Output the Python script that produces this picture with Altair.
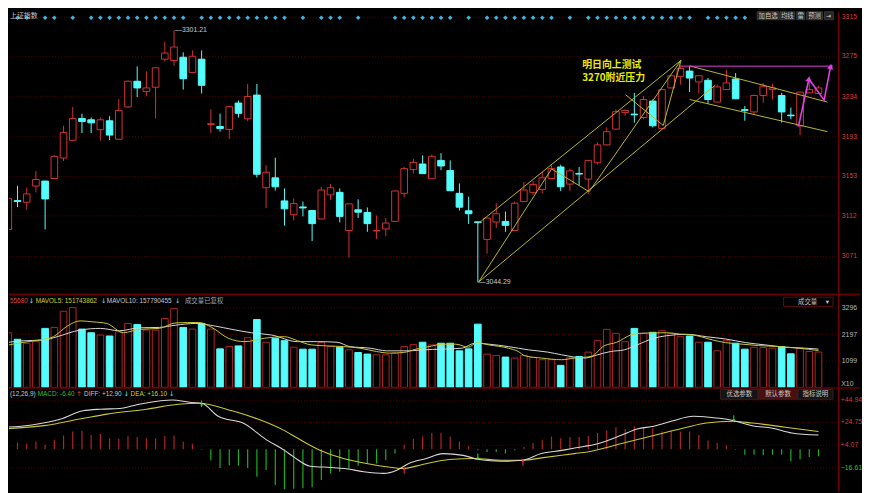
import altair as alt
import pandas as pd

# ---------------- data ----------------
candle_idx = list(range(89))
opens = [3098.0, 3127.5, 3125.8, 3142.3, 3147.4, 3150.0, 3170.9, 3189.0, 3211.2, 3209.9,
         3199.8, 3208.9, 3190.0, 3223.0, 3249.2, 3238.7, 3243.1, 3271.7, 3270.3, 3273.7,
         3258.2, 3271.7, 3205.1, 3203.1, 3200.1, 3227.0, 3210.9, 3235.1, 3140.6, 3150.7,
         3127.2, 3113.1, 3121.0, 3117.4, 3108.7, 3133.3, 3135.9, 3097.0, 3118.1, 3115.4,
         3096.5, 3098.6, 3106.3, 3134.9, 3159.1, 3164.8, 3149.7, 3168.5, 3158.1, 3134.9,
         3117.1, 3105.8, 3087.9, 3105.6, 3106.3, 3097.0, 3126.5, 3135.9, 3138.9, 3150.0,
         3161.8, 3144.3, 3155.2, 3149.4, 3166.1, 3184.3, 3200.4, 3217.2, 3215.7, 3212.2,
         3229.0, 3201.1, 3242.4, 3254.2, 3259.6, 3248.5, 3250.2, 3228.0, 3240.7, 3251.5,
         3220.2, 3217.9, 3234.7, 3240.7, 3234.7, 3214.7, 3203.8, 3237.4, 3236.7]
highs = [3141.6, 3142.6, 3140.6, 3157.8, 3147.8, 3173.9, 3203.8, 3223.0, 3216.2, 3212.2,
         3212.2, 3213.5, 3231.0, 3250.0, 3264.3, 3259.3, 3263.5, 3289.5, 3301.21, 3278.7,
         3280.7, 3280.7, 3220.6, 3216.2, 3223.5, 3229.6, 3246.5, 3246.5, 3163.5, 3171.2,
         3139.9, 3129.8, 3126.5, 3117.8, 3141.6, 3144.3, 3139.9, 3124.5, 3128.8, 3120.5,
         3112.4, 3109.7, 3137.8, 3161.8, 3170.2, 3173.6, 3174.6, 3175.9, 3168.5, 3145.0,
         3131.5, 3106.0, 3110.0, 3124.8, 3116.4, 3126.5, 3146.7, 3147.4, 3156.7, 3163.5,
         3164.1, 3160.1, 3161.8, 3168.8, 3187.0, 3202.1, 3220.6, 3220.6, 3237.4, 3234.1,
         3230.6, 3241.4, 3255.8, 3265.9, 3264.3, 3255.0, 3252.5, 3245.7, 3260.9, 3257.5,
         3224.0, 3235.7, 3247.5, 3246.5, 3237.4, 3222.3, 3238.5, 3250.8, 3244.7]
lows = [3095.6, 3120.8, 3118.1, 3135.9, 3098.0, 3149.4, 3167.8, 3188.3, 3196.4, 3196.4,
        3188.7, 3189.3, 3189.5, 3222.0, 3233.0, 3234.1, 3211.2, 3269.3, 3264.9, 3240.7,
        3258.0, 3236.7, 3196.4, 3197.8, 3190.3, 3212.2, 3208.5, 3151.0, 3119.8, 3137.6,
        3102.0, 3107.4, 3111.4, 3086.2, 3108.5, 3128.2, 3105.3, 3069.4, 3109.7, 3095.6,
        3088.5, 3091.2, 3106.0, 3130.8, 3155.0, 3154.8, 3149.5, 3158.5, 3137.4, 3117.4,
        3103.6, 3044.29, 3073.4, 3099.6, 3095.6, 3096.8, 3126.3, 3133.3, 3134.9, 3149.8,
        3137.3, 3137.3, 3143.3, 3133.9, 3164.5, 3183.7, 3200.2, 3214.0, 3207.1, 3210.5,
        3202.1, 3200.4, 3242.2, 3245.7, 3238.1, 3236.7, 3226.3, 3227.8, 3240.5, 3231.0,
        3208.9, 3215.5, 3227.3, 3230.6, 3207.1, 3210.5, 3194.3, 3237.0, 3236.5]
closes = [3129.8, 3126.5, 3134.3, 3149.0, 3129.2, 3172.6, 3197.1, 3211.2, 3208.2, 3206.8,
          3209.9, 3194.3, 3219.5, 3249.2, 3242.4, 3242.4, 3262.9, 3278.0, 3284.1, 3251.8,
          3274.7, 3245.1, 3205.9, 3201.1, 3223.3, 3216.5, 3233.7, 3154.4, 3156.4, 3141.6,
          3119.1, 3124.5, 3120.0, 3104.0, 3138.3, 3140.6, 3111.4, 3124.2, 3115.7, 3104.0,
          3097.0, 3104.6, 3137.3, 3160.1, 3166.5, 3155.0, 3172.6, 3162.8, 3137.6, 3120.8,
          3114.1, 3105.1, 3109.7, 3114.1, 3102.3, 3124.8, 3138.3, 3144.0, 3150.7, 3160.1,
          3141.6, 3157.8, 3154.5, 3168.5, 3184.3, 3197.8, 3218.2, 3219.5, 3215.0, 3230.6,
          3203.8, 3240.7, 3254.8, 3262.3, 3252.5, 3254.8, 3230.6, 3243.4, 3247.5, 3231.3,
          3219.5, 3234.7, 3244.1, 3242.4, 3217.9, 3214.0, 3238.1, 3240.7, 3242.4]
volumes = [2251, 1982, 1819, 1884, 2430, 2470, 3134, 3284, 2401, 2251,
           2157, 2116, 2291, 2633, 2593, 2361, 2361, 2837, 3244, 2470,
           2401, 2633, 2401, 1587, 1681, 1709, 2047, 2796, 1860, 2023,
           1925, 1656, 1575, 1575, 1860, 1681, 1656, 1547, 1437, 1372,
           1343, 1343, 1412, 1681, 1762, 1860, 1750, 1819, 1819, 1506,
           1587, 2605, 1372, 1315, 1249, 1209, 1315, 1233, 1140, 1140,
           908, 1221, 1274, 1453, 1925, 2389, 2226, 1884, 2430, 2226,
           2267, 2332, 2226, 2088, 2116, 1860, 1860, 1506, 1925, 1819,
           1575, 1656, 1640, 1616, 1681, 1384, 1616, 1477, 1457]
macd_hist = [5.8, 5.8, 4.9, 7.0, 4.0, 8.5, 12.4, 16.0, 16.6, 13.0,
             13.9, 10.0, 9.4, 11.9, 11.0, 10.0, 10.0, 11.9, 12.4, 7.0,
             4.9, -0.5, -10.0, -17.0, -14.5, -15.0, -17.0, -25.0, -19.0, -32.5,
             -36.4, -36.0, -35.5, -34.6, -28.0, -22.0, -20.5, -17.5, -15.0, -13.0,
             -13.0, -10.0, -4.0, 4.0, 9.4, 11.5, 14.8, 14.8, 11.5, 7.0,
             2.9, -1.0, -2.5, -2.5, -4.0, -1.0, 2.0, 5.6, 8.5, 11.5,
             10.0, 11.0, 11.0, 12.0, 14.8, 16.9, 20.0, 18.4, 20.9, 20.0,
             19.0, 16.0, 16.9, 16.0, 16.0, 13.0, 7.9, 5.8, 3.4, -0.5,
             -5.0, -5.0, -5.5, -5.0, -4.8, -11.0, -9.2, -7.0, -6.4]

ma5_idx = [-0.8, 1.4, 3.5, 4.9, 6.4, 7.8, 9.2, 10.7, 12.5, 14.2, 16.4, 18.2, 20.7, 22.1, 23.9,
           25.7, 27.8, 30.0, 31.4, 32.9, 34.6, 36.4, 38.2, 40.0, 41.4, 42.9, 44.3, 45.7, 47.2,
           48.6, 50.0, 50.9, 52.2, 54.3, 55.4, 56.1, 57.9, 60.1, 61.5, 63.3, 64.7, 66.1, 67.6,
           68.6, 71.5, 72.9, 74.4, 76.5, 77.9, 79.4, 81.5, 83.7, 85.8, 88.0]
ma5_val = [1681, 1844, 1954, 2088, 2523, 2739, 2698, 2633, 2251, 2389, 2430, 2658, 2674, 2470, 2023,
           1884, 2023, 2088, 1925, 1750, 1709, 1681, 1616, 1477, 1412, 1437, 1575, 1681, 1779,
           1779, 1656, 1844, 1750, 1616, 1477, 1302, 1209, 1140, 1209, 1274, 1709, 1860, 2157,
           2226, 2251, 2198, 2157, 1954, 1844, 1791, 1722, 1681, 1616, 1517]
ma10_idx = [-0.8, 1.4, 3.9, 5.3, 7.8, 10.0, 12.1, 14.2, 16.4, 18.2, 20.3, 22.5, 24.3, 26.4, 28.6,
            31.4, 33.6, 35.7, 37.1, 39.3, 41.1, 43.6, 45.0, 47.2, 49.3, 50.7, 52.2, 54.3, 56.5,
            58.6, 60.1, 62.6, 64.0, 65.4, 66.9, 68.3, 70.1, 71.5, 73.7, 75.8, 77.9, 80.1, 82.2,
            84.4, 86.5, 88.0]
ma10_val = [1819, 1913, 1954, 2088, 2361, 2430, 2332, 2454, 2470, 2564, 2633, 2523, 2389, 2251, 2157,
            1884, 1884, 1860, 1681, 1616, 1506, 1506, 1547, 1575, 1616, 1819, 1779, 1681, 1547,
            1453, 1343, 1209, 1343, 1477, 1547, 1750, 2023, 2129, 2186, 2088, 1994, 1844, 1750,
            1656, 1616, 1578]

diff_idx = [-0.8, 1.4, 3.8, 5.7, 8.1, 10.0, 12.1, 14.2, 16.4, 17.8, 19.9, 21.0, 22.8, 25.7, 27.9,
            30.0, 31.0, 32.8, 35.0, 36.5, 38.6, 40.8, 42.2, 43.5, 45.4, 47.2, 49.4, 51.1, 53.6,
            55.8, 57.9, 60.1, 61.5, 64.0, 66.5, 68.3, 70.1, 72.2, 74.4, 76.2, 77.9, 79.0, 80.8,
            83.0, 85.1, 88.0]
diff_val = [20.0, 20.9, 23.8, 27.4, 34.9, 36.4, 37.0, 40.9, 43.9, 44.8, 42.4, 41.8, 29.9, 22.9, 9.4,
            -1.1, -7.0, -15.5, -16.6, -17.5, -20.5, -22.0, -19.1, -13.0, -8.5, -4.0, -5.6, -9.4, -11.0,
            -10.1, -4.0, -1.1, 1.1, 4.9, 12.4, 18.4, 20.9, 25.9, 29.9, 29.0, 27.4, 25.4, 21.4,
            19.1, 14.8, 12.9]
dea_idx = [-0.8, 3.9, 8.2, 10.7, 15.0, 18.5, 20.7, 24.3, 27.1, 30.0, 31.4, 33.9, 36.4, 38.9, 41.1,
           42.9, 45.0, 47.9, 50.7, 53.6, 55.8, 57.9, 61.5, 62.9, 66.5, 70.1, 73.7, 75.8, 78.7,
           80.8, 84.4, 88.0]
dea_val = [18.4, 21.4, 28.1, 31.9, 36.4, 40.9, 41.8, 34.9, 27.4, 16.9, 10.1, -1.1, -8.5, -13.0, -16.0,
           -17.5, -13.9, -9.4, -8.5, -10.1, -10.1, -7.9, -4.0, -2.5, 4.9, 12.4, 20.0, 23.8, 25.4,
           23.8, 20.0, 16.1]

signal_idx = [1, 2, 4, 5, 7, 9, 10, 11, 12, 13, 14, 15, 16, 17, 18, 19, 21, 22, 23, 24, 25, 26, 27,
              28, 29, 30, 32, 34, 35, 36, 38, 42, 43, 44, 45, 46, 47, 48, 50, 52, 53, 54, 55, 56,
              57, 58, 59, 61, 63, 64, 65, 66, 67, 68, 69, 70, 71, 72, 73, 74, 76, 77, 78, 79, 80,
              82, 83, 84, 85, 86, 87, 88]

death_cross_idx = [21, 51, 78.8]
death_cross_val = [41.2, -7.2, 27.7]
golden_cross_idx = [43, 55.9]
golden_cross_val = [-19.1, -11.9]

# drawn trend lines (candle index, price)
seg_x1 = [51.07, 51.07, 51.07, 59.01, 63.09, 67.06, 71.14, 74.0, 74.0]
seg_y1 = [3104.3, 3044.29, 3044.29, 3159.8, 3136.6, 3235.4, 3204.1, 3264.9, 3230.6]
seg_x2 = [73.07, 76.8, 59.01, 63.09, 73.07, 71.14, 73.07, 88.97, 88.97]
seg_y2 = [3270.6, 3245.4, 3159.8, 3136.6, 3270.6, 3204.1, 3270.6, 3228.0, 3197.8]
press_x = [73.07]
press_x2 = [89.57]
press_level = [3264.6]
zig_idx = [85.82, 86.96, 88.61, 89.32]
zig_price = [3203.1, 3251.5, 3230.0, 3264.3]

price_ticks = [3071, 3112, 3153, 3193, 3234, 3275, 3315]
vol_ticks = [1099, 2197, 3296]
macd_ticks = [44.94, 24.75, 4.07, -16.61]

# ---------------- styling / layout ----------------
W, H1, H2, H3 = 839, 287, 94, 104
RED = '#d23232'
VRED = '#b02424'
CYAN = '#54fcfc'
GREEN = '#1fae1f'
YEL = '#c8c832'
WHITE = '#d8d8d8'
MAG = '#e040e0'
GRID = '#5a0000'
AXIS = '#8c0000'
TXT = '#c8c8c8'
LATIN = 'Liberation Sans'
CJK = 'Noto Sans CJK SC'

xs = alt.Scale(domain=[0.075, 90.15], nice=False, zero=False)
ps = alt.Scale(domain=[3030.73, 3320.04], nice=False, zero=False)
vs = alt.Scale(domain=[-40.7, 3785.1], nice=False, zero=False)
ms = alt.Scale(domain=[-38.2, 55.3], nice=False, zero=False)

df = pd.DataFrame({'idx': candle_idx, 'o': opens, 'h': highs, 'l': lows, 'c': closes,
                   'v': volumes, 'm': macd_hist})
df['dir'] = ['up' if c >= o else 'down' for o, c in zip(opens, closes)]
df['top'] = df[['o', 'c']].max(axis=1)
df['bot'] = df[['o', 'c']].min(axis=1)
df['x1'] = df['idx'] - 0.36
df['x2'] = df['idx'] + 0.36
df['zero'] = 0.0


def yaxis(values, fmt, color, pad=3):
    return alt.Axis(orient='right', values=values, format=fmt, title=None,
                    labelColor=color, labelFont=LATIN, labelFontSize=7, labelPadding=pad,
                    ticks=False, domain=True, domainColor=AXIS, domainWidth=1.2,
                    grid=True, gridColor=GRID, gridDash=[1, 2], gridWidth=1,
                    labelFlush=False, labelOverlap=False)


PAX = yaxis(price_ticks, 'd', '#d23c3c')
VAX = yaxis(vol_ticks, 'd', '#b8b8b8')
MAX = yaxis(macd_ticks, '+.2f',
            {'condition': {'test': 'datum.value < 0', 'value': '#2ec82e'}, 'value': '#d23c3c'},
            pad=2)

X = alt.X('idx:Q', scale=xs, axis=None)
up = alt.datum.dir == 'up'


def PY(field):
    return alt.Y(field, scale=ps, axis=PAX)


def VY(field):
    return alt.Y(field, scale=vs, axis=VAX)


def MY(field):
    return alt.Y(field, scale=ms, axis=MAX)


def txt(text, x, y, color=TXT, size=6.5, align='left', font=LATIN, weight='normal'):
    return alt.Chart(pd.DataFrame({'t': [text]})).mark_text(
        align=align, baseline='middle', color=color, fontSize=size, font=font,
        fontWeight=weight
    ).encode(text='t:N', x=alt.value(x), y=alt.value(y))


def box(x1, x2, y1, y2, fill, stroke):
    return alt.Chart(pd.DataFrame({'a': [0]})).mark_rect(
        fill=fill, stroke=stroke, strokeWidth=1
    ).encode(x=alt.value(x1), x2=alt.value(x2), y=alt.value(y1), y2=alt.value(y2))


def hline(y, width, color, sw):
    return alt.Chart(pd.DataFrame({'a': [0]})).mark_rule(color=color, strokeWidth=sw).encode(
        x=alt.value(0), x2=alt.value(width), y=alt.value(y))


base = alt.Chart(df)

# ---------------- price panel ----------------
wick = base.mark_rule(strokeWidth=1, clip=True).encode(
    x=X, y=PY('l:Q'), y2='h:Q',
    color=alt.when(up).then(alt.value(RED)).otherwise(alt.value(CYAN)))
body = base.mark_rect(strokeWidth=1, clip=True).encode(
    x=alt.X('x1:Q', scale=xs, axis=None), x2='x2:Q',
    y=PY('bot:Q'), y2='top:Q',
    fill=alt.when(up).then(alt.value('#000000')).otherwise(alt.value(CYAN)),
    stroke=alt.when(up).then(alt.value(RED)).otherwise(alt.value(CYAN)))

tl = pd.DataFrame({'x1': seg_x1, 'y1': seg_y1, 'x2': seg_x2, 'y2': seg_y2})
trend = alt.Chart(tl).mark_rule(color='#b8b828', strokeWidth=1, clip=True).encode(
    x=alt.X('x1:Q', scale=xs, axis=None), x2='x2:Q', y=PY('y1:Q'), y2='y2:Q')

press = alt.Chart(pd.DataFrame({'x1': press_x, 'x2': press_x2, 'p': press_level})).mark_rule(
    color=MAG, strokeWidth=1).encode(
    x=alt.X('x1:Q', scale=xs, axis=None), x2='x2:Q', y=PY('p:Q'))
zig = pd.DataFrame({'idx': zig_idx, 'p': zig_price, 'k': list(range(len(zig_idx)))})
zig_line = alt.Chart(zig).mark_line(color=MAG, strokeWidth=1.6).encode(
    x=X, y=PY('p:Q'), order='k:Q')
zig_heads = alt.Chart(zig.iloc[[1, 3]]).mark_point(
    shape='triangle-up', filled=True, size=40, color=MAG, angle=12, opacity=1).encode(
    x=X, y=PY('p:Q'))

diam = alt.Chart(pd.DataFrame({'idx': signal_idx})).mark_point(
    shape='diamond', filled=True, size=22, color='#3cb4e6', opacity=1).encode(
    x=X, y=alt.value(6))

ext = pd.DataFrame({'idx': [18, 51], 'p': [3301.21, 3044.29],
                    't': ['—3301.21', '—3044.29']})
ext_txt = alt.Chart(ext).mark_text(align='left', baseline='middle', dx=1, color=TXT,
                                    fontSize=7, font=LATIN).encode(
    x=X, y=PY('p:Q'), text='t:N')

note = pd.DataFrame({'idx': [62.34, 62.34], 'p': [3266.0, 3252.0],
                     't': ['明日向上测试', '3270附近压力']})
note_txt = alt.Chart(note).mark_text(align='left', baseline='middle', color='#ecec00',
                                     fontSize=10, font=CJK, fontWeight='bold').encode(
    x=X, y=PY('p:Q'), text='t:N')

btns = [('加自选', 757, 779), ('均线', 780, 795), ('雷', 797, 805), ('预测', 807, 823), ('⇥', 825, 834)]
btn_layers = []
for label, a, b in btns:
    btn_layers.append(box(a, b, 0, 8, '#262626', '#3a3a3a'))
    btn_layers.append(txt(label, (a + b) / 2, 4, TXT, 6.5, 'center', CJK))

price = alt.layer(
    wick, body, trend, press, zig_line, zig_heads, diam, ext_txt, note_txt,
    txt('上证指数', 1, 4, TXT, 7, 'left', CJK),
    *btn_layers,
    hline(H1 - 1, W + 22, '#640000', 2),
).properties(width=W, height=H1)

# ---------------- volume panel ----------------
vbar = base.mark_rect(strokeWidth=1, clip=True).encode(
    x=alt.X('x1:Q', scale=xs, axis=None), x2='x2:Q',
    y=VY('v:Q'), y2='zero:Q',
    fill=alt.when(up).then(alt.value('#000000')).otherwise(alt.value(CYAN)),
    stroke=alt.when(up).then(alt.value(VRED)).otherwise(alt.value(CYAN)))
ma10 = alt.Chart(pd.DataFrame({'idx': ma10_idx, 'v': ma10_val})).mark_line(
    color=WHITE, strokeWidth=1, clip=True, interpolate='monotone').encode(
    x=X, y=VY('v:Q'))
ma5 = alt.Chart(pd.DataFrame({'idx': ma5_idx, 'v': ma5_val})).mark_line(
    color=YEL, strokeWidth=1, clip=True, interpolate='monotone').encode(
    x=X, y=VY('v:Q'))

volume = alt.layer(
    vbar, ma10, ma5,
    txt('55680', 1, 6, '#e04040'),
    txt('↓', 20, 6, CYAN, font='DejaVu Sans'),
    txt('MAVOL5: 151743862', 27, 6, '#d0d030'),
    txt('↓', 93, 6, CYAN, font='DejaVu Sans'),
    txt('MAVOL10: 157790455', 99, 6, TXT),
    txt('↓', 168, 6, CYAN, font='DejaVu Sans'),
    txt('成交量已复权', 178, 6, '#a8a8a8', font=CJK),
    box(783.7, 833.7, 1.7, 11, '#000000', '#5a1010'),
    txt('成交量', 808, 6.3, TXT, 6.5, 'center', CJK),
    txt('▾', 828, 6.3, TXT, 6.5, 'center', 'DejaVu Sans'),
    txt('X10', W + 3, 90, '#b8b8b8', 7),
    hline(H2 - 0.5, W + 22, '#640000', 1.5),
).properties(width=W, height=H2)

# ---------------- MACD panel ----------------
hist = base.mark_rule(strokeWidth=1.2, clip=True).encode(
    x=X, y=MY('m:Q'), y2='zero:Q',
    color=alt.when(alt.datum.m >= 0).then(alt.value(VRED)).otherwise(alt.value(GREEN)))
dea = alt.Chart(pd.DataFrame({'idx': dea_idx, 'm': dea_val})).mark_line(
    color=YEL, strokeWidth=1.1, clip=True, interpolate='monotone').encode(
    x=X, y=MY('m:Q'))
diff = alt.Chart(pd.DataFrame({'idx': diff_idx, 'm': diff_val})).mark_line(
    color=WHITE, strokeWidth=1.1, clip=True, interpolate='monotone').encode(
    x=X, y=MY('m:Q'))
dn_arrow = alt.Chart(pd.DataFrame({'idx': death_cross_idx, 'm': death_cross_val})).mark_point(
    shape='arrow', filled=True, size=50, color='#22e022', angle=180, opacity=1).encode(
    x=X, y=MY('m:Q'))
up_arrow = alt.Chart(pd.DataFrame({'idx': golden_cross_idx, 'm': golden_cross_val})).mark_point(
    shape='arrow', filled=True, size=50, color='#ff3030', angle=0, opacity=1).encode(
    x=X, y=MY('m:Q'))

mbtns = [('优选参数', 719.7, 758, '#141414'), ('默认参数', 758, 798, '#4a1010'),
         ('指标说明', 798, 833.7, '#141414')]
mbtn_layers = []
for label, a, b, f in mbtns:
    mbtn_layers.append(box(a, b, 1, 11, f, '#3a2020'))
    mbtn_layers.append(txt(label, (a + b) / 2, 6, TXT, 6.5, 'center', CJK))

macd = alt.layer(
    hist, dea, diff, dn_arrow, up_arrow,
    txt('(12,26,9)', 1, 6, TXT),
    txt('MACD: -6.40', 29, 6, '#30c030'),
    txt('↑', 68, 6, '#ff3030', font='DejaVu Sans'),
    txt('DIFF: +12.90', 76, 6, TXT),
    txt('↓', 116, 6, CYAN, font='DejaVu Sans'),
    txt('DEA: +16.10', 123, 6, '#d0d030'),
    txt('↓', 162, 6, CYAN, font='DejaVu Sans'),
    *mbtn_layers,
).properties(width=W, height=H3)

chart = alt.vconcat(price, volume, macd, spacing=0, bounds='flush').properties(
    background='#000000', padding=0
).configure_view(stroke=None)

chart.save("out.html", embed_options={"renderer": "svg", "actions": False})
